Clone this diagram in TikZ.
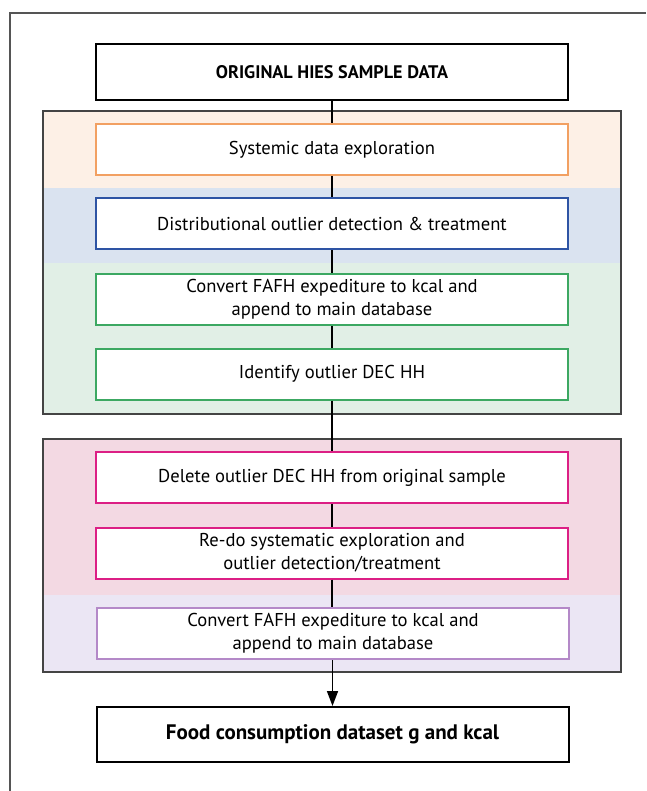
\documentclass[tikz,border=0pt]{standalone}
\usepackage{fontspec}
\setmainfont{PT Sans}
\usetikzlibrary{arrows.meta}
\definecolor{frameg}{HTML}{555555}
\definecolor{grpline}{HTML}{444444}
\definecolor{orfill}{HTML}{FDF0E6}
\definecolor{orline}{HTML}{F2A062}
\definecolor{blfill}{HTML}{DAE3F0}
\definecolor{blline}{HTML}{2E54A4}
\definecolor{grfill}{HTML}{E1EFE6}
\definecolor{grline}{HTML}{3CA862}
\definecolor{pkfill}{HTML}{F3D9E3}
\definecolor{pkline}{HTML}{DC1F85}
\definecolor{lvfill}{HTML}{EBE6F4}
\definecolor{lvline}{HTML}{B489C8}
\tikzset{
  stepbox/.style={draw, line width=2pt, fill=white, minimum width=472pt, minimum height=51pt,
    inner sep=0pt, align=center, font=\fontsize{18.6}{23}\selectfont},
  endbox/.style={stepbox, draw=black, minimum height=56pt},
  grp/.style={draw=grpline, line width=1.2pt},
  conn/.style={draw=black, line width=1.6pt},
}
\begin{document}
\begin{tikzpicture}[x=1pt,y=-1pt]
\useasboundingbox (0,0) rectangle (646,791);
\fill[white] (0,0) rectangle (646,791);
% outer frame (cropped)
\draw[frameg, line width=1.2pt] (10,791) -- (10,13) -- (646,13);
% group 1 bands
\fill[orfill] (43,111) rectangle (621,188);
\fill[blfill] (43,188) rectangle (621,263);
\fill[grfill] (43,263) rectangle (621,414);
\draw[grp] (43,111) rectangle (621,414);
% group 2 bands
\fill[pkfill] (43,439) rectangle (621,595);
\fill[lvfill] (43,595) rectangle (621,672);
\draw[grp] (43,439) rectangle (621,672);
\node[endbox, font=\fontsize{18.2}{22}\selectfont\bfseries] (top) at (332,72) {ORIGINAL HIES SAMPLE DATA};
\node[stepbox, draw=orline] (b1) at (332,149.5) {Systemic data exploration};
\node[stepbox, draw=blline] (b2) at (332,224) {Distributional outlier detection \& treatment};
\node[stepbox, draw=grline] (b3) at (332,299.5) {Convert FAFH expediture to kcal and\\append to main database};
\node[stepbox, draw=grline] (b4) at (332,374) {Identify outlier DEC HH};
\node[stepbox, draw=pkline] (b5) at (332,477.5) {Delete outlier DEC HH from original sample};
\node[stepbox, draw=pkline] (b6) at (332,553) {Re-do systematic exploration and\\outlier detection/treatment};
\node[stepbox, draw=lvline] (b7) at (333,633.5) {Convert FAFH expediture to kcal and\\append to main database};
\node[endbox, minimum height=55pt, font=\fontsize{21}{25}\selectfont\bfseries] (fin) at (332.5,734.5) {Food consumption dataset g and kcal};
\draw[conn] (top) -- (b1);
\draw[conn] (b1) -- (b2);
\draw[conn] (b2) -- (b3);
\draw[conn] (b3) -- (b4);
\draw[conn] (b4) -- (b5);
\draw[conn] (b5) -- (b6);
\draw[conn] (b6) -- (b7.north -| b6.south);
\draw[conn, -{Triangle[length=15pt,width=11pt]}] (b7.south -| fin.north) -- (fin);
\end{tikzpicture}
\end{document}
